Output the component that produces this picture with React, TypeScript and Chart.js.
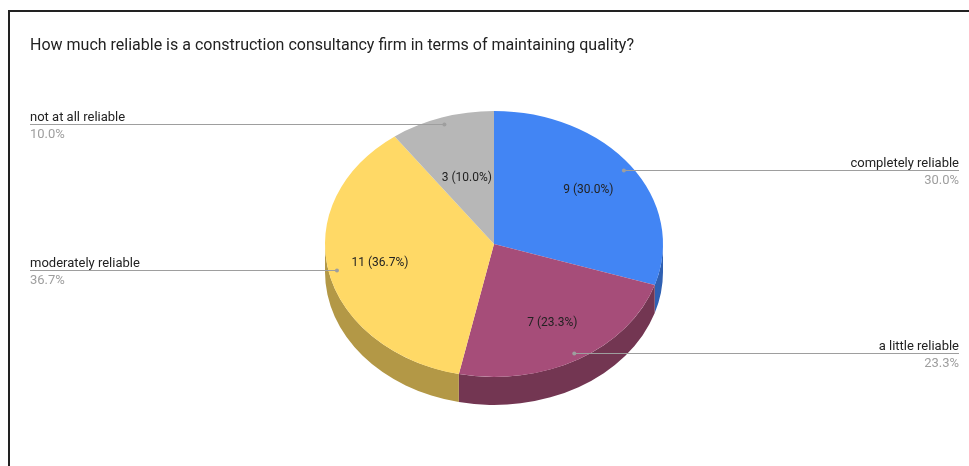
import React, { useEffect, useRef } from "react";
import { Chart, registerables } from "chart.js";

Chart.register(...registerables);

const TITLE = "How much reliable is a construction consultancy firm in terms of maintaining quality?";
const categories = ["completely reliable", "a little reliable", "moderately reliable", "not at all reliable"];
const counts = [9, 7, 11, 3];
const topColors = ["#4285F4", "#A64D79", "#FFD966", "#B7B7B7"];
const sideColors = ["#2F60B2", "#733652", "#B39846", "#808080"];

const FONT = "Roboto, Arial, sans-serif";
const TILT = 133 / 169;
const DEPTH = 28;
const W = 969;
const H = 466;

const pie3d = {
  id: "pie3d",
  beforeDraw(chart: any) {
    const ctx = chart.ctx;
    ctx.save();
    ctx.fillStyle = "#ffffff";
    ctx.fillRect(0, 0, W, H);
    ctx.fillStyle = "#222222";
    ctx.fillRect(8, 10, W - 8, 2);
    ctx.fillRect(8, 10, 2, H - 10);
    ctx.font = `16px ${FONT}`;
    ctx.textAlign = "left";
    ctx.textBaseline = "alphabetic";
    ctx.fillStyle = "#222222";
    ctx.fillText(TITLE, 30, 50);
    ctx.restore();
  },
  beforeDatasetsDraw(chart: any) {
    const ctx = chart.ctx;
    const arcs = chart.getDatasetMeta(0).data;
    ctx.save();
    if (!arcs.length) return;
    const { x: cx, y: cy, outerRadius: R } = arcs[0];
    const r = R * TILT;
    arcs.forEach((arc: any, i: number) => {
      const s = arc.startAngle;
      const e = arc.endAngle;
      for (const off of [-2 * Math.PI, 0, 2 * Math.PI]) {
        const a0 = Math.max(s, off);
        const a1 = Math.min(e, off + Math.PI);
        if (a1 > a0) {
          ctx.beginPath();
          ctx.ellipse(cx, cy, R, r, 0, a0, a1, false);
          ctx.lineTo(cx + R * Math.cos(a1), cy + r * Math.sin(a1) + DEPTH);
          ctx.ellipse(cx, cy + DEPTH, R, r, 0, a1, a0, true);
          ctx.closePath();
          ctx.fillStyle = sideColors[i];
          ctx.fill();
        }
      }
    });
    ctx.translate(cx, cy);
    ctx.scale(1, TILT);
    ctx.translate(-cx, -cy);
  },
  afterDatasetsDraw(chart: any) {
    const ctx = chart.ctx;
    ctx.restore();
    const arcs = chart.getDatasetMeta(0).data;
    if (!arcs.length) return;
    const { x: cx, y: cy, outerRadius: R } = arcs[0];
    const r = R * TILT;
    const total = counts.reduce((a, b) => a + b, 0);
    ctx.save();
    arcs.forEach((arc: any, i: number) => {
      const mid = (arc.startAngle + arc.endAngle) / 2;
      const span = arc.endAngle - arc.startAngle;
      const pct = ((counts[i] / total) * 100).toFixed(1) + "%";
      const f = span < 0.8 ? 0.52 : 0.69;
      const lx = cx + f * R * Math.cos(mid);
      const ly = cy + f * r * Math.sin(mid);
      ctx.font = `12px ${FONT}`;
      ctx.fillStyle = "#222222";
      ctx.textAlign = "center";
      ctx.textBaseline = "middle";
      ctx.fillText(`${counts[i]} (${pct})`, lx, ly);

      const px = cx + 0.95 * R * Math.cos(mid);
      const py = Math.round(cy + 0.95 * r * Math.sin(mid)) + 0.5;
      const left = Math.cos(mid) < 0;
      const ex = left ? 30 : 959;
      ctx.strokeStyle = "#9e9e9e";
      ctx.lineWidth = 1;
      ctx.beginPath();
      ctx.moveTo(px, py);
      ctx.lineTo(ex, py);
      ctx.stroke();
      ctx.fillStyle = "#9e9e9e";
      ctx.beginPath();
      ctx.arc(px, py, 2, 0, Math.PI * 2);
      ctx.fill();

      ctx.font = `13px ${FONT}`;
      ctx.textAlign = left ? "left" : "right";
      ctx.textBaseline = "alphabetic";
      ctx.fillStyle = "#222222";
      ctx.fillText(categories[i], ex, py - 4);
      ctx.fillStyle = "#9e9e9e";
      ctx.fillText(pct, ex, py + 13);
    });
    ctx.restore();
  },
};

export default function App() {
  const ref = useRef<HTMLCanvasElement | null>(null);
  useEffect(() => {
    if (!ref.current) return;
    const chart = new Chart(ref.current, {
      type: "pie",
      data: {
        labels: categories,
        datasets: [
          {
            data: counts,
            backgroundColor: topColors,
            borderWidth: 0,
            hoverOffset: 0,
          },
        ],
      },
      options: {
        responsive: false,
        animation: false,
        devicePixelRatio: 1,
        rotation: 0,
        layout: { padding: { left: 325, right: 306, top: 75, bottom: 53 } },
        plugins: {
          legend: { display: false },
          tooltip: { enabled: false },
          title: { display: false },
        },
      },
      plugins: [pie3d],
    } as any);
    return () => chart.destroy();
  }, []);
  return (
    <div style={{ position: "fixed", left: 0, top: 0, width: W, height: H, background: "#fff" }}>
      <canvas ref={ref} width={W} height={H} style={{ display: "block" }} />
    </div>
  );
}
